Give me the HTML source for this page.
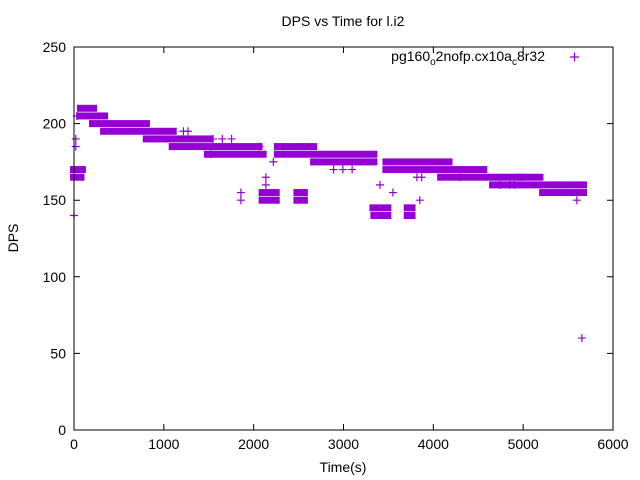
<!DOCTYPE html>
<html><head><meta charset="utf-8"><style>
html,body{margin:0;padding:0;background:#fff}
svg{display:block;font-family:"Liberation Sans",sans-serif}
</style></head><body>
<svg id="chart" width="640" height="480" xmlns="http://www.w3.org/2000/svg">
<rect width="640" height="480" fill="#fff"/>
<text x="343" y="26" text-anchor="middle" font-size="14">DPS vs Time for l.i2</text>
<text x="18" y="238" text-anchor="middle" font-size="14" transform="rotate(-90 18 238)">DPS</text>
<text x="343" y="472" text-anchor="middle" font-size="14">Time(s)</text>
<g id="axes"></g>
<g id="marks"></g>
<g>
<text x="545" y="61" text-anchor="end" font-size="14">pg160<tspan dy="4" font-size="10">o</tspan><tspan dy="-4">2nofp.cx10a</tspan><tspan dy="4" font-size="10">c</tspan><tspan dy="-4">8r32</tspan></text>
<path d="M570 57h9M574.5 52.5v9" stroke="#9400d3" stroke-width="1.2"/>
</g>
<rect x="74" y="47" width="539" height="383" fill="none" stroke="#000" stroke-width="1"/>
</svg>
<script>
const xTicks=[0,1000,2000,3000,4000,5000,6000];
const yTicks=[0,50,100,150,200,250];
// dense bands of points: level, start time, end time
const bandLevel=[210,205,200,195,190,185,185,185,180,180,175,175,170,165,165,160,155,155,150,155,150,145,140,145,140,170,165];
const bandStart=[77,77,212,335,810,1099,2270,2549,1491,2270,2673,3478,3478,4087,4974,4665,5222,2100,2100,2487,2487,3333,3344,3715,3715,0,0];
const bandEnd=[212,335,800,1099,1502,2054,2487,2663,2100,3333,3333,4169,4556,4954,5181,5666,5666,2245,2245,2559,2559,3488,3488,3757,3757,88,72];
// isolated points
const ptTime=[0,20,20,31,1858,1858,2136,2136,3406,3550,3849,5598,5654,1218,1269,1548,1651,1754,1527,2219,4747,4850,4902,3818,3870,2064,2890,2993,3096,4293];
const ptDps=[140,185,190,205,155,150,160,165,160,155,150,150,60,195,195,190,190,190,180,175,160,160,160,165,165,185,170,170,170,165];
const X0=74,X1=613,Y0=430,Y1=47;
const xs=t=>X0+(t-0)/6000*(X1-X0);
const ys=v=>Y0-(v-0)/250*(Y0-Y1);
const NS="http://www.w3.org/2000/svg";
const axes=document.getElementById('axes'),marks=document.getElementById('marks');
function mk(tag,attrs,parent){const e=document.createElementNS(NS,tag);for(const k in attrs)e.setAttribute(k,attrs[k]);parent.appendChild(e);return e;}
xTicks.forEach(t=>{
 const x=xs(t);
 const l=mk('path',{d:`M${x} ${Y0}v-6M${x} ${Y1}v6`,stroke:'#000'},axes);
 
 
 const tx=mk('text',{x:x,y:449,'text-anchor':'middle','font-size':'14'},axes);
 tx.textContent=t;
 
 
});
yTicks.forEach(v=>{
 const y=ys(v);
 const l=mk('path',{d:`M${X0} ${y}h6M${X1} ${y}h-6`,stroke:'#000'},axes);
 
 
 const tx=mk('text',{x:66,y:y+5,'text-anchor':'end','font-size':'14'},axes);
 tx.textContent=v;
 
 
});
bandLevel.forEach((v,i)=>{
 const x0=xs(bandStart[i])-4,x1=xs(bandEnd[i])+4,y=ys(v);
 const r=mk('rect',{x:x0,y:y-3.5,width:x1-x0,height:7,fill:'#9400d3'},marks);
 
 
});
ptTime.forEach((t,i)=>{
 const x=xs(t),y=ys(ptDps[i]);
 const p=mk('path',{d:`M${x-4} ${y}h8M${x} ${y-4}v8`,stroke:'#9400d3','stroke-width':1.2},marks);
 
 
});
</script>
</body></html>
